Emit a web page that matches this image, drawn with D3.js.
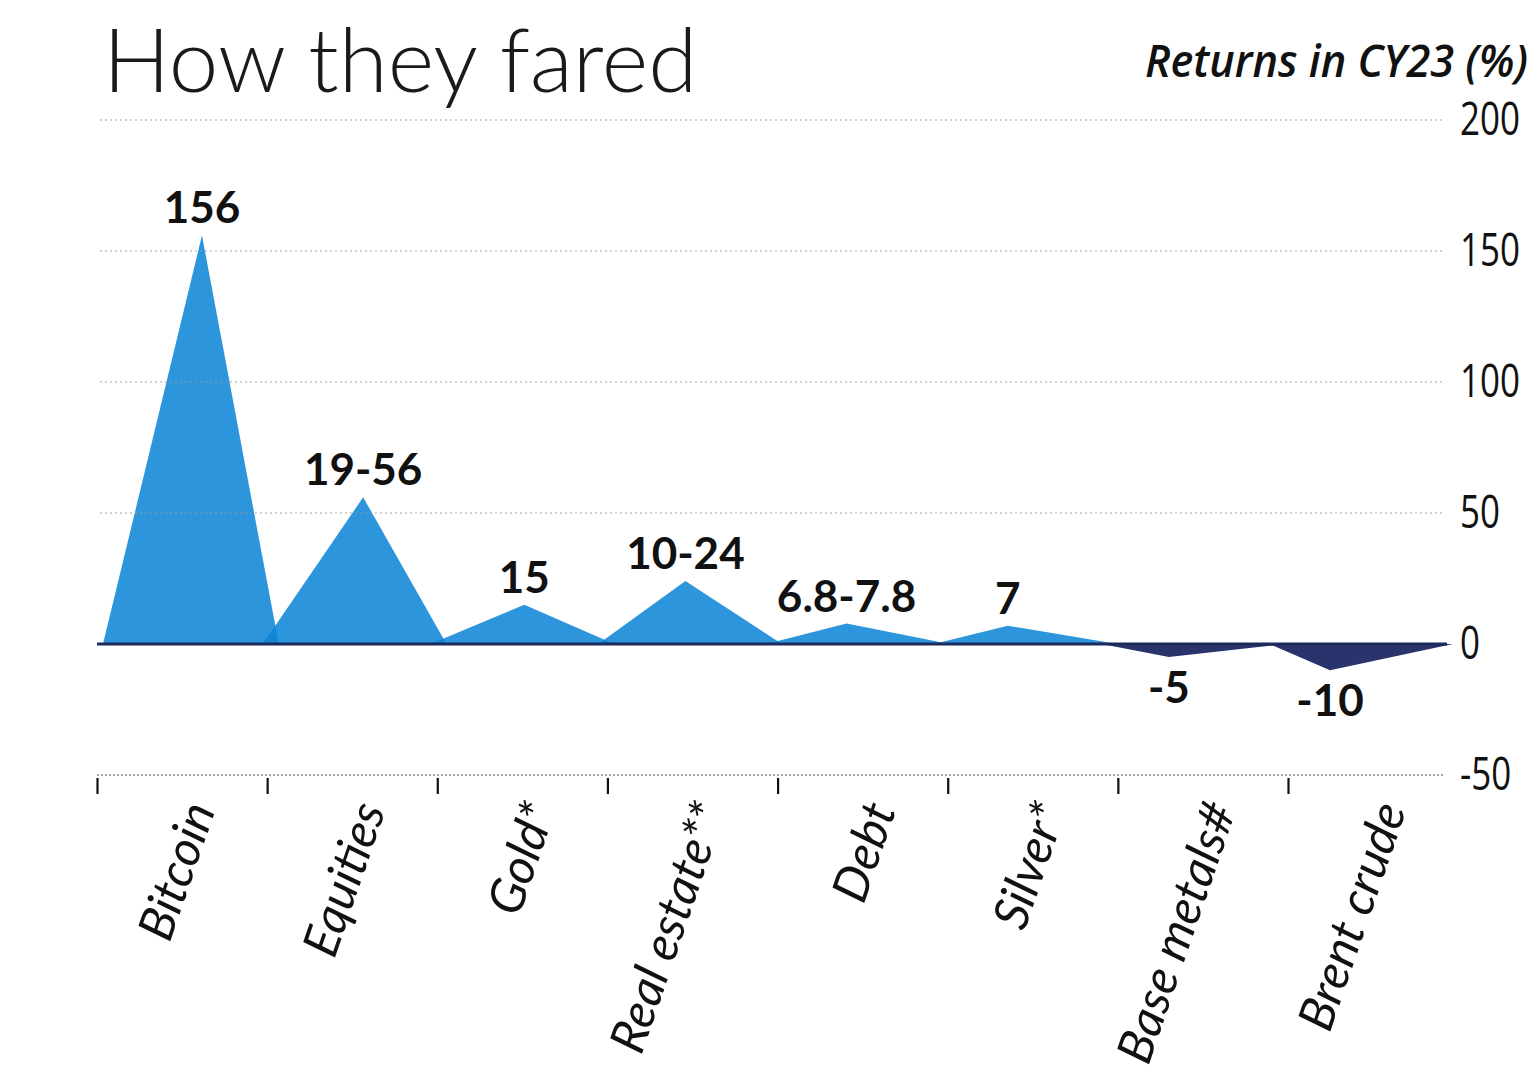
<!DOCTYPE html>
<html>
<head>
<meta charset="utf-8">
<script src="https://cdn.jsdelivr.net/npm/d3@7"></script>
<style>
  html, body { margin: 0; padding: 0; background: #ffffff; }
  svg { display: block; }
</style>
</head>
<body>
<svg id="chart" width="1533" height="1091"></svg>
<script>
const categories = ["Bitcoin", "Equities", "Gold*", "Real estate**", "Debt", "Silver*", "Base metals#", "Brent crude"];
const returns = [156, 56, 15, 24, 7.8, 7, -5, -10];
const valueLabels = ["156", "19-56", "15", "10-24", "6.8-7.8", "7", "-5", "-10"];
const yTicks = [-50, 0, 50, 100, 150, 200];
const gridValues = [50, 100, 150, 200];
const titleText = "How they fared";
const unitText = "Returns in CY23 (%)";

const data = categories.map((c, i) => ({ cat: c, value: returns[i], label: valueLabels[i] }));

const svg = d3.select("#chart");
const W = 1533, H = 1091;
svg.append("rect").attr("width", W).attr("height", H).attr("fill", "#ffffff");

const y = d3.scaleLinear().domain([-50, 200]).range([775, 120]);
const xBase = d3.scaleBand().domain(categories).range([103, 1445]);
const xPeak = d3.scalePoint().domain(categories).range([202, 1330]);
const xTick = d3.scalePoint().domain(categories).range([97, 1288]);

// title
svg.append("text")
  .attr("x", 103).attr("y", 92)
  .attr("font-family", "Lato, 'Open Sans', sans-serif")
  .attr("font-weight", 300)
  .attr("font-size", 89)
  .attr("fill", "#1a1a1a")
  .text(titleText);

svg.append("g")
  .attr("transform", "translate(1528,77) scale(0.94,1)")
  .append("text")
  .attr("x", 0).attr("y", 0)
  .attr("text-anchor", "end")
  .attr("font-family", "'Open Sans', sans-serif")
  .attr("font-style", "italic")
  .attr("font-weight", 600)
  .attr("font-size", 46)
  .attr("fill", "#111")
  .text(unitText);

// triangles
const overlap = 8;
svg.append("g").selectAll("path")
  .data(data)
  .join("path")
  .attr("d", d => {
    const x0 = xBase(d.cat) - (d.value > 100 ? 0 : overlap), x1 = xBase(d.cat) + xBase.bandwidth() + overlap;
    const xp = xPeak(d.cat);
    return `M${x0},${y(0)}L${xp},${y(d.value)}L${x1},${y(0)}Z`;
  })
  .attr("fill", d => d.value >= 0 ? "rgb(11,131,214)" : "rgb(30,40,100)")
  .attr("fill-opacity", d => d.value >= 0 ? 0.86 : 0.95);

// gridlines
svg.append("g").selectAll("line")
  .data(gridValues)
  .join("line")
  .attr("x1", 100).attr("x2", 1442)
  .attr("y1", d => y(d)).attr("y2", d => y(d))
  .attr("stroke", "#9a9a9a")
  .attr("stroke-width", 1.5)
  .attr("stroke-dasharray", "2,3")
  .attr("opacity", 0.6);

// zero baseline
svg.append("line")
  .attr("x1", 97).attr("x2", 1447)
  .attr("y1", y(0)).attr("y2", y(0))
  .attr("stroke", "#1c2a5c")
  .attr("stroke-width", 3);

// bottom axis at -50
svg.append("line")
  .attr("x1", 97).attr("x2", 1445)
  .attr("y1", y(-50)).attr("y2", y(-50))
  .attr("stroke", "#888")
  .attr("stroke-width", 1.5)
  .attr("stroke-dasharray", "2,2");

const xAxis = d3.axisBottom(xTick).tickSize(16).tickSizeOuter(0);
const gx = svg.append("g")
  .attr("transform", `translate(0,${y(-50) + 3})`)
  .call(xAxis);
gx.select(".domain").remove();
gx.selectAll(".tick line").attr("stroke", "#111").attr("stroke-width", 2.2);
gx.selectAll(".tick text")
  .attr("font-family", "Lato, 'Open Sans', sans-serif")
  .attr("font-style", "italic")
  .attr("font-size", 49)
  .attr("fill", "#111")
  .attr("text-anchor", "end")
  .attr("y", 0).attr("dy", "0.35em")
  .attr("transform", "translate(102,26) rotate(-71)");

// y axis on right
const yAxis = d3.axisRight(y).tickValues(yTicks).tickSize(0).tickPadding(0).tickFormat(d => String(d));
const gy = svg.append("g")
  .attr("transform", "translate(1460,0)")
  .call(yAxis);
gy.select(".domain").remove();
gy.selectAll(".tick text")
  .attr("font-family", "'Open Sans', sans-serif")
  .attr("font-size", 46)
  .attr("font-weight", 400)
  .attr("fill", "#111")
  .attr("x", 0)
  .attr("transform", "scale(0.76,1)");

// value labels
svg.append("g").selectAll("text")
  .data(data)
  .join("text")
  .attr("x", d => xPeak(d.cat))
  .attr("y", d => d.value >= 0 ? y(d.value) - 12 : y(d.value) + 46)
  .attr("text-anchor", "middle")
  .attr("font-family", "Lato, 'Open Sans', sans-serif")
  .attr("font-weight", 700)
  .attr("font-size", 44)
  .attr("fill", "#111")
  .text(d => d.label);
</script>
</body>
</html>
